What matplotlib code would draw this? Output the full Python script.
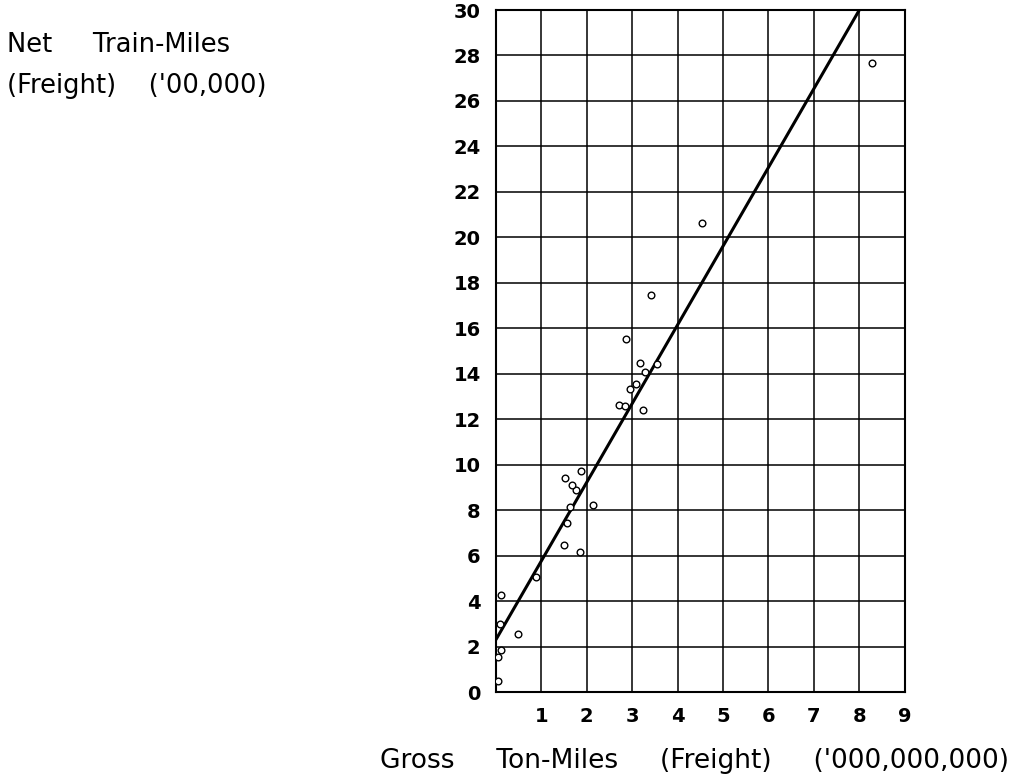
import matplotlib
matplotlib.use('Agg')
import matplotlib.pyplot as plt
import numpy as np

# observed points: gross ton-miles ('000,000,000) vs net train-miles ('00,000)
gross_ton_miles = [0.04, 0.05, 0.11, 0.09, 0.12, 0.49, 0.88,
                   1.50, 1.85, 1.56, 1.64, 2.13, 1.77, 1.68, 1.53, 1.87,
                   2.71, 2.85, 3.24, 2.95, 3.08, 3.28, 3.18, 3.55, 2.87,
                   3.41, 4.53, 8.29]
net_train_miles = [0.48, 1.55, 1.83, 3.00, 4.28, 2.54, 5.06,
                   6.45, 6.16, 7.43, 8.13, 8.24, 8.87, 9.12, 9.43, 9.74,
                   12.61, 12.58, 12.42, 13.32, 13.54, 14.07, 14.49, 14.42, 15.54,
                   17.48, 20.63, 27.66]

# fitted straight line (end points)
fit_x = [0.0, 8.0]
fit_y = [2.3, 30.0]

x_ticks = np.arange(0, 10, 1)
x_tick_labels = ['', '1', '2', '3', '4', '5', '6', '7', '8', '9']
y_ticks = np.arange(0, 31, 2)

fig = plt.figure(figsize=(10.12, 7.83), dpi=100)
ax = fig.add_axes([0.490, 0.1162, 0.404, 0.8710])

ax.plot(fit_x, fit_y, color='black', lw=2.2, solid_capstyle='butt', zorder=3)
ax.plot(gross_ton_miles, net_train_miles, 'o', ms=4.8, mfc='white', mec='black',
        mew=1.0, zorder=4)

ax.set_xlim(0, 9)
ax.set_ylim(0, 30)
ax.set_xticks(x_ticks)
ax.set_xticklabels(x_tick_labels)
ax.set_yticks(y_ticks)
ax.grid(True, color='black', lw=1.1)
ax.set_axisbelow(True)
for s in ax.spines.values():
    s.set_linewidth(1.5)
ax.tick_params(length=0, labelsize=14, pad=11)
for lab in ax.get_xticklabels() + ax.get_yticklabels():
    lab.set_fontweight('bold')

fig.text(0.007, 1 - 45 / 783, 'Net     Train-Miles', fontsize=18.5, va='center', ha='left')
fig.text(0.007, 1 - 86 / 783, "(Freight)    ('00,000)", fontsize=18.5, va='center', ha='left')
fig.text(0.997, 1 - 761 / 783, "Gross     Ton-Miles     (Freight)     ('000,000,000)",
         fontsize=19, va='center', ha='right')

fig.savefig('out.png', dpi=100)
